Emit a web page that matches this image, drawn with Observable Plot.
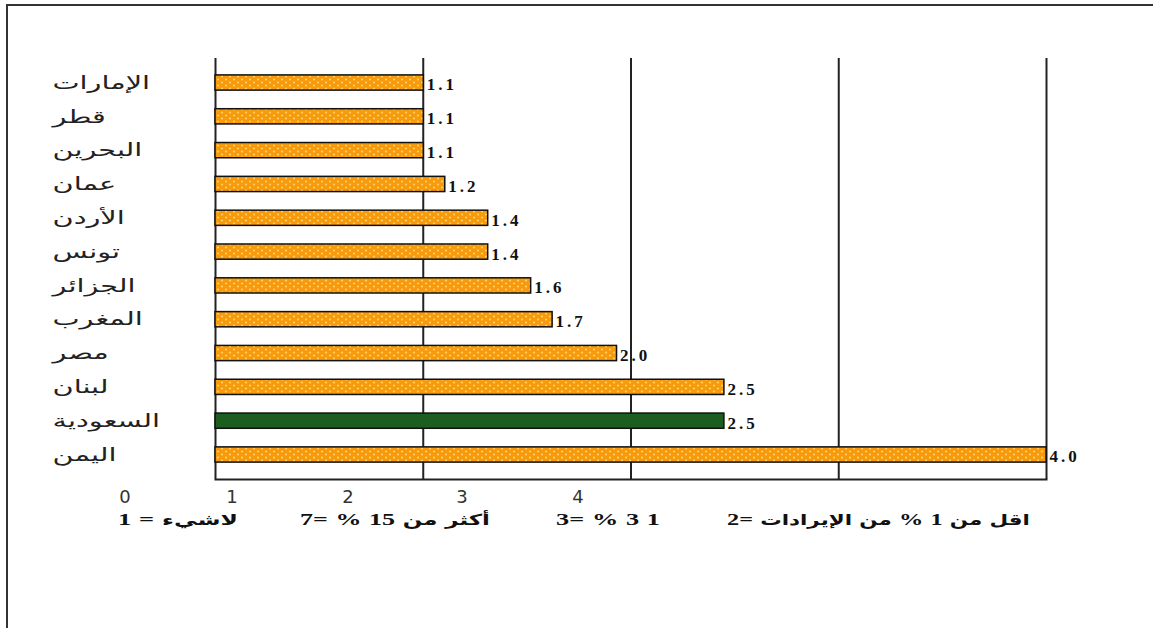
<!DOCTYPE html>
<html>
<head>
<meta charset="utf-8">
<script src="https://cdn.jsdelivr.net/npm/d3@7"></script>
<script src="https://cdn.jsdelivr.net/npm/@observablehq/plot@0.6"></script>
<style>
  html, body { margin: 0; padding: 0; background: #fff; }
  #wrap { position: relative; width: 1153px; height: 628px; overflow: hidden; }
  #frame { position: absolute; left: 6px; top: 4px; right: -10px; bottom: -10px;
           border-top: 2px solid #333; border-left: 2px solid #333; pointer-events: none; }
  #chart { position: absolute; left: 0; top: 0; }
  .tick { position: absolute; top: 486px; font: 18px "DejaVu Sans", sans-serif; color: #333; transform: translateX(-50%); }
  .legend { position: absolute; top: 510px; display: flex; flex-direction: row; direction: ltr;
            gap: 5px; align-items: baseline; font: bold 17px "Liberation Serif", "DejaVu Sans", serif; color: #111;
            white-space: nowrap; transform-origin: 0 50%; }
  .legend span { display: inline-block; }
  .legend .ar { font: bold 15px "DejaVu Sans", sans-serif; }
</style>
</head>
<body>
<div id="wrap">
  <div id="chart"></div>
  <div id="frame"></div>
</div>
<script>
// ---- data ----
const countries = ["الإمارات", "قطر", "البحرين", "عمان", "الأردن", "تونس", "الجزائر", "المغرب", "مصر", "لبنان", "السعودية", "اليمن"];
const values = [1.1, 1.1, 1.1, 1.2, 1.4, 1.4, 1.6, 1.7, 2.0, 2.5, 2.5, 4.0];
const highlighted = ["السعودية"];
const bottomTicks = ["0", "1", "2", "3", "4"];
// legend groups, each listed in visual left-to-right order
const legendGroups = [
  ["1", "=", "لاشيء"],
  ["7=", "%", "15", "من", "أكثر"],
  ["3=", "%", "3", "1"],
  ["2=", "الإيرادات", "من", "%", "1", "من", "اقل"]
];

const data = countries.map((c, i) => ({
  country: c,
  value: values[i],
  group: highlighted.includes(c) ? "highlight" : "normal"
}));

const xMin = 0.13, xMax = 4.0;
const gridValues = d3.range(5).map(i => xMin + i * (xMax - xMin) / 4);

const chart = Plot.plot({
  width: 1153,
  height: 490,
  marginTop: 58,
  marginBottom: 11,
  marginLeft: 215,
  marginRight: 107,
  x: { domain: [xMin, xMax], axis: null },
  y: { domain: countries, axis: null, paddingInner: 0.55, paddingOuter: 0.5, round: false },
  color: { domain: ["normal", "highlight"], range: ["url(#dots)", "#1b5e20"] },
  marks: [
    Plot.ruleX(gridValues, { stroke: "#222", strokeWidth: 2 }),
    Plot.frame({ anchor: "bottom", stroke: "#222", strokeWidth: 2 }),
    Plot.barX(data, { x1: xMin, x2: "value", y: "country", fill: "group", stroke: "#111", strokeWidth: 1.5 }),
    Plot.text(data, { x: "value", y: "country", text: d => d.value.toFixed(1), textAnchor: "start", dx: 3, dy: 2,
      fontWeight: "bold", fontSize: 17, fontFamily: "Liberation Serif", fill: "#111" }),
    Plot.text(data, { y: "country", text: "country", frameAnchor: "left", dx: -163, textAnchor: "start",
      fontSize: 18, fontFamily: "DejaVu Sans", fill: "#222" })
  ]
});

// dotted orange texture
const ns = "http://www.w3.org/2000/svg";
const defs = document.createElementNS(ns, "defs");
defs.innerHTML = `
  <pattern id="dots" patternUnits="userSpaceOnUse" width="8" height="6">
    <rect width="8" height="6" fill="#F79A0C"></rect>
    <circle cx="2" cy="1.5" r="1" fill="#FFD87A"></circle>
    <circle cx="6" cy="4.5" r="1" fill="#FFD87A"></circle>
  </pattern>`;
chart.insertBefore(defs, chart.firstChild);
document.getElementById("chart").appendChild(chart);

// widen the Arabic country names and space the value digits like the original
const textGroups = chart.querySelectorAll('g[aria-label="text"]');
if (textGroups.length >= 2) {
  textGroups[0].style.letterSpacing = "3px";
  textGroups[1].querySelectorAll("text").forEach(t => {
    const tr = t.getAttribute("transform");
    if (tr) t.setAttribute("transform", tr + " scale(1.6,1)");
    else {
      const x = +t.getAttribute("x") || 0;
      t.setAttribute("transform", `translate(${x},0) scale(1.6,1) translate(${-x},0)`);
    }
  });
}

// bottom tick labels (not aligned with the grid in the original)
const tickX = [125, 232, 348, 462, 578];
const wrap = document.getElementById("wrap");
bottomTicks.forEach((t, i) => {
  const d = document.createElement("div");
  d.className = "tick";
  d.style.left = tickX[i] + "px";
  d.textContent = t;
  wrap.appendChild(d);
});

// legend line
const legendX = [118, 300, 556, 727];
const legendW = [120, 190, 104, 303];
const arabicRe = /[\u0600-\u06FF]/;
legendGroups.forEach((g, i) => {
  const row = document.createElement("div");
  row.className = "legend";
  row.style.left = legendX[i] + "px";
  g.forEach(w => {
    const s = document.createElement("span");
    if (arabicRe.test(w)) { s.className = "ar"; s.dir = "rtl"; }
    s.textContent = w;
    row.appendChild(s);
  });
  wrap.appendChild(row);
  const w = row.getBoundingClientRect().width;
  if (w > 0) row.style.transform = `scaleX(${(legendW[i] / w).toFixed(3)})`;
});
</script>
</body>
</html>
